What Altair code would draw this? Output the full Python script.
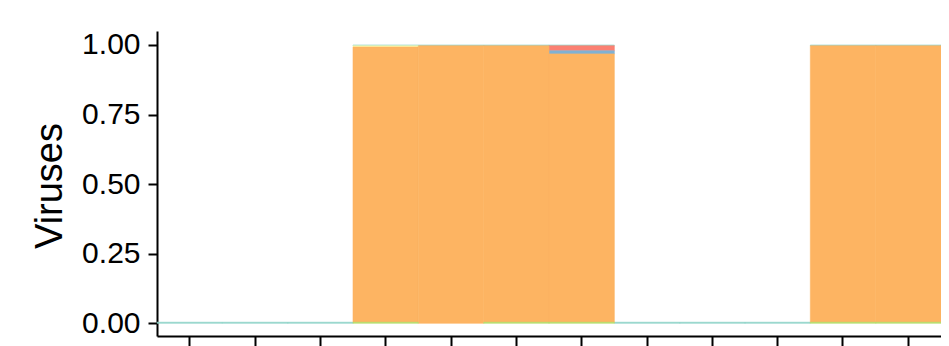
import altair as alt
import pandas as pd

categories = ["1", "2", "3", "4", "5", "6", "7", "8", "9", "10", "11", "12"]

series = ["S1", "S2", "S3", "S4", "S5", "S6", "S7"]
colors = ["#8DD3C7", "#FFFFB3", "#BEBADA", "#FB8072", "#80B1D3", "#FDB462", "#B3DE69"]

# proportions per series (top of stack first), one value per category
s1 = [0.004, 0.004, 0.004, 0.003, 0.003, 0.003, 0.003, 0.004, 0.004, 0.004, 0.003, 0.003]
s2 = [0, 0, 0, 0.004, 0, 0, 0, 0, 0, 0, 0, 0]
s3 = [0, 0, 0, 0, 0, 0, 0, 0, 0, 0, 0, 0]
s4 = [0, 0, 0, 0, 0, 0, 0.018, 0, 0, 0, 0, 0]
s5 = [0, 0, 0, 0, 0, 0, 0.011, 0, 0, 0, 0, 0]
s6 = [0, 0, 0, 0.989, 0.997, 0.993, 0.964, 0, 0, 0, 0.993, 0.993]
s7 = [0, 0, 0, 0.004, 0, 0.004, 0.004, 0, 0, 0, 0.004, 0.004]

values = [s1, s2, s3, s4, s5, s6, s7]

rows = []
for si, (name, vals) in enumerate(zip(series, values)):
    for c, v in zip(categories, vals):
        if v > 0:
            rows.append({"cat": c, "series": name, "value": v, "ord": len(series) - si})
df = pd.DataFrame(rows)

y_ticks = [0, 0.25, 0.5, 0.75, 1.0]

color_scale = alt.Scale(domain=series, range=colors)

chart = alt.Chart(df).mark_bar(strokeWidth=0.6).encode(
    x=alt.X("cat:N", sort=categories,
            scale=alt.Scale(domain=categories, paddingInner=0, paddingOuter=0),
            axis=alt.Axis(labels=False, title=None, ticks=True, tickSize=12,
                          tickWidth=2, tickColor="black", domainColor="black",
                          domainWidth=2, grid=False, bandPosition=0.5)),
    y=alt.Y("sum(value):Q", stack="zero",
            scale=alt.Scale(domain=[-0.0456, 1.0503], nice=False, zero=False),
            axis=alt.Axis(values=y_ticks, format=".2f", title="Viruses",
                          labelFont="Liberation Sans", labelFontSize=30,
                          labelColor="black", labelPadding=8,
                          tickSize=9, tickWidth=2, tickColor="black",
                          domainColor="black", domainWidth=2, grid=False,
                          titleFont="Liberation Sans", titleFontSize=38,
                          titleFontWeight="normal", titleColor="black",
                          titleAngle=270, titleAlign="center",
                          titleBaseline="alphabetic",
                          titleX=-96, titleY=154.5)),
    color=alt.Color("series:N", scale=color_scale, legend=None),
    stroke=alt.Stroke("series:N", scale=color_scale, legend=None),
    order=alt.Order("ord:Q"),
).properties(
    width=784, height=305,
    autosize=alt.AutoSizeParams(type="none"),
    padding={"left": 149, "top": 23, "right": 0, "bottom": 10},
).configure_view(stroke=None)

chart.save("out.html", embed_options={"renderer": "svg", "actions": False})
